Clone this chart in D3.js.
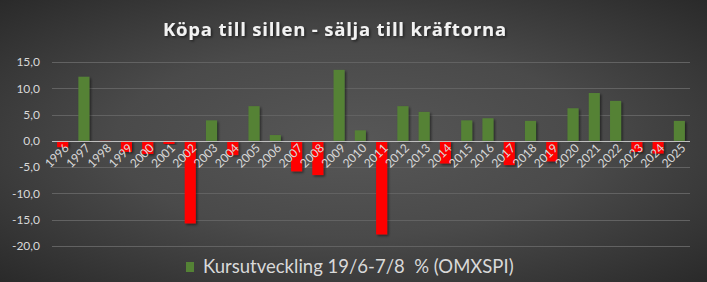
<!DOCTYPE html>
<html>
<head>
<meta charset="utf-8">
<script src="https://cdn.jsdelivr.net/npm/d3@7"></script>
<style>
  body { margin: 0; background: #2a2a2a; }
  svg { display: block; }
</style>
</head>
<body>
<div id="chart"></div>
<script>
// data
const years = ["1996","1997","1998","1999","2000","2001","2002","2003","2004","2005",
    "2006","2007","2008","2009","2010","2011","2012","2013","2014","2015",
    "2016","2017","2018","2019","2020","2021","2022","2023","2024","2025"];
const values = [-1.2, 12.2, -0.1, -2.1, -2.5, -0.6, -15.7, 3.9, -2.7, 6.6,
    1.1, -5.8, -6.5, 13.5, 2.0, -17.8, 6.6, 5.5, -4.3, 3.9,
    4.3, -4.6, 3.8, -3.9, 6.2, 9.1, 7.6, -2.1, -2.4, 3.8];
const yTicks = [-20, -15, -10, -5, 0, 5, 10, 15];

const title = "Köpa till sillen - sälja till kräftorna";
const seriesName = "Kursutveckling 19/6-7/8  % (OMXSPI)";

const width = 707, height = 282;
const margin = {top: 62, right: 17, bottom: 36, left: 52};

const svg = d3.select("#chart").append("svg")
    .attr("width", width)
    .attr("height", height);

// background
const defs = svg.append("defs");
const grad = defs.append("radialGradient")
    .attr("id", "bg")
    .attr("cx", "50%").attr("cy", "50%").attr("r", "75%");
grad.append("stop").attr("offset", "0%").attr("stop-color", "#575757");
grad.append("stop").attr("offset", "45%").attr("stop-color", "#4a4a4a");
grad.append("stop").attr("offset", "100%").attr("stop-color", "#262626");

const shadow = defs.append("filter").attr("id", "shadow")
    .attr("x", "-30%").attr("y", "-30%").attr("width", "160%").attr("height", "160%");
shadow.append("feDropShadow")
    .attr("dx", 1.5).attr("dy", 1.5).attr("stdDeviation", 1.2)
    .attr("flood-color", "#000").attr("flood-opacity", 0.5);

svg.append("rect")
    .attr("width", width).attr("height", height)
    .attr("fill", "url(#bg)");

const x = d3.scaleBand()
    .domain(years)
    .range([margin.left, width - margin.right])
    .paddingInner(0.48)
    .paddingOuter(0.24);

const y = d3.scaleLinear()
    .domain([-20, 15])
    .range([height - margin.bottom, margin.top]);

// gridlines
svg.append("g")
    .selectAll("line")
    .data(yTicks)
    .join("line")
    .attr("x1", margin.left)
    .attr("x2", width - margin.right)
    .attr("y1", d => Math.round(y(d)) + 0.5)
    .attr("y2", d => Math.round(y(d)) + 0.5)
    .attr("stroke", "#626262")
    .attr("stroke-width", 1);

// y axis labels
const yAxis = d3.axisLeft(y)
    .tickValues(yTicks)
    .tickSize(0)
    .tickPadding(0)
    .tickFormat(d => d3.format(".1f")(d).replace(".", ",").replace("−", "-"));

svg.append("g")
    .attr("transform", "translate(40,0)")
    .call(yAxis)
    .call(g => g.select(".domain").remove())
    .call(g => g.selectAll("text")
        .attr("fill", "#d9d9d9")
        .attr("font-family", "Lato, sans-serif")
        .attr("font-size", 12));

// bars
svg.append("g")
    .selectAll("rect")
    .data(values)
    .join("rect")
    .attr("x", (d, i) => x(years[i]))
    .attr("width", x.bandwidth())
    .attr("y", d => y(Math.max(0, d)))
    .attr("height", d => Math.abs(y(d) - y(0)))
    .attr("fill", d => d >= 0 ? "#548235" : "#ff0000")
    .attr("filter", "url(#shadow)");

// zero line
svg.append("line")
    .attr("x1", margin.left)
    .attr("x2", width - margin.right)
    .attr("y1", Math.round(y(0)) + 0.5)
    .attr("y2", Math.round(y(0)) + 0.5)
    .attr("stroke", "#bfbfbf")
    .attr("stroke-width", 1);

// x axis labels, rotated
svg.append("g")
    .selectAll("text")
    .data(years)
    .join("text")
    .attr("transform", d => {
        let cx = x(d) + x.bandwidth() / 2 + 4;
        let cy = y(0) + 5;
        return "translate(" + cx + "," + cy + ") rotate(-45)";
    })
    .attr("text-anchor", "end")
    .attr("dy", "0.35em")
    .attr("fill", "#d9d9d9")
    .attr("font-family", "Lato, sans-serif")
    .attr("font-size", 12)
    .text(d => d);

// title
svg.append("text")
    .attr("x", 335)
    .attr("y", 36)
    .attr("text-anchor", "middle")
    .attr("fill", "#f2f2f2")
    .attr("font-family", "'Open Sans', sans-serif")
    .attr("font-weight", "bold")
    .attr("font-size", 18.5)
    .attr("letter-spacing", 0.8)
    .attr("filter", "url(#shadow)")
    .text(title);

// legend
const legend = svg.append("g").attr("transform", "translate(186,262)");
legend.append("rect")
    .attr("width", 8).attr("height", 10)
    .attr("fill", "#548235");
legend.append("text")
    .attr("x", 17)
    .attr("y", 10.5)
    .attr("fill", "#d9d9d9")
    .attr("font-family", "Lato, sans-serif")
    .attr("font-size", 18.5)
    .style("white-space", "pre")
    .text(seriesName);
</script>
</body>
</html>
